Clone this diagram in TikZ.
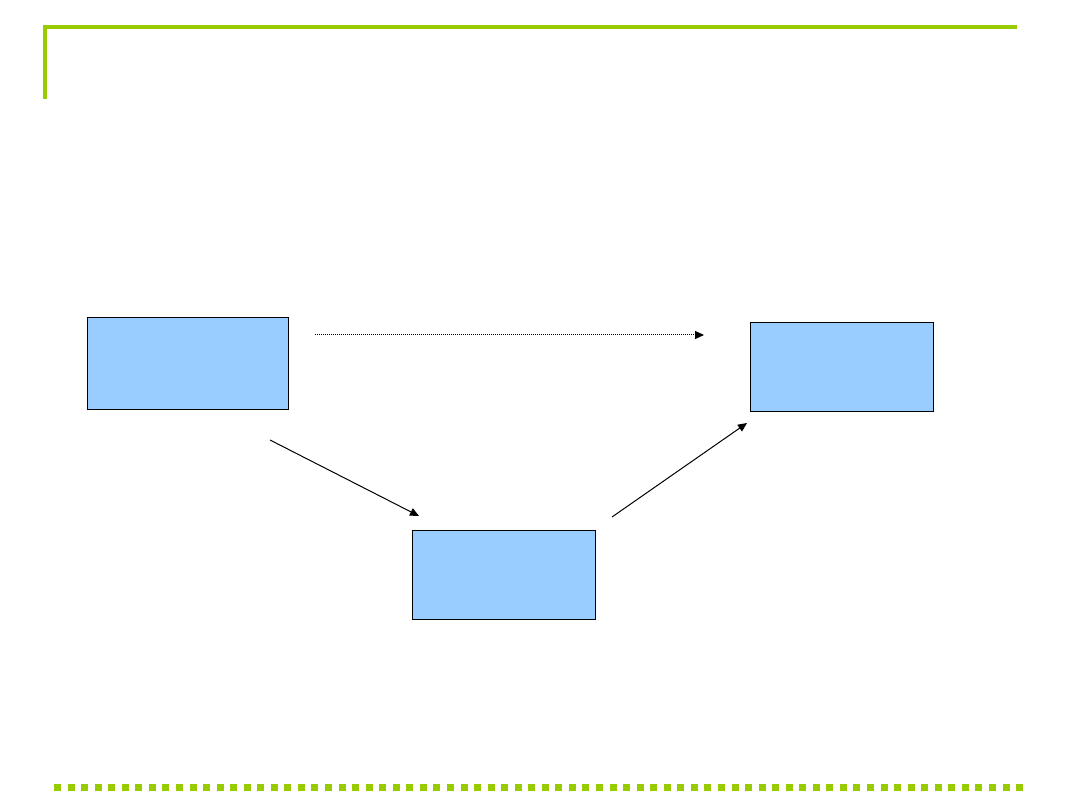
\documentclass[tikz,border=0pt]{standalone}
\usetikzlibrary{arrows.meta}
\definecolor{lime}{HTML}{99CC00}
\definecolor{boxblue}{HTML}{99CCFF}
\tikzset{
  box/.style={draw=black, fill=boxblue, line width=1pt, inner sep=0pt, outer sep=0pt},
  conn/.style={draw=black, line width=1pt, -{Triangle[length=9pt,width=8pt]}},
  dotconn/.style={conn, dash pattern=on 1pt off 1pt},
}
\begin{document}
\begin{tikzpicture}[x=1pt,y=-1pt]
\path[use as bounding box, fill=white] (0,0) rectangle (1080,810);
% title bracket
\fill[lime] (43,25) rectangle (1017,29);
\fill[lime] (43,25) rectangle (47,99);
% bottom dotted rule
\foreach \i in {0,...,71} {
  \fill[lime] ({54+13.55*\i},784) rectangle ++(7,7);
}
% boxes
\node[box, minimum width=201pt, minimum height=92pt] (A) at (188,363.5) {};
\node[box, minimum width=183pt, minimum height=89pt] (B) at (842,367) {};
\node[box, minimum width=183pt, minimum height=89pt] (C) at (504,575) {};
% connector ends
\coordinate (d1) at (315,335);
\coordinate (d2) at (704,335);
\coordinate (ac1) at (270,440);
\coordinate (ac2) at (419,516);
\coordinate (cb1) at (612,517);
\coordinate (cb2) at (747,423);
\draw[dotconn] (d1) -- (d2);
\draw[conn] (ac1) -- (ac2);
\draw[conn] (cb1) -- (cb2);
\end{tikzpicture}
\end{document}
